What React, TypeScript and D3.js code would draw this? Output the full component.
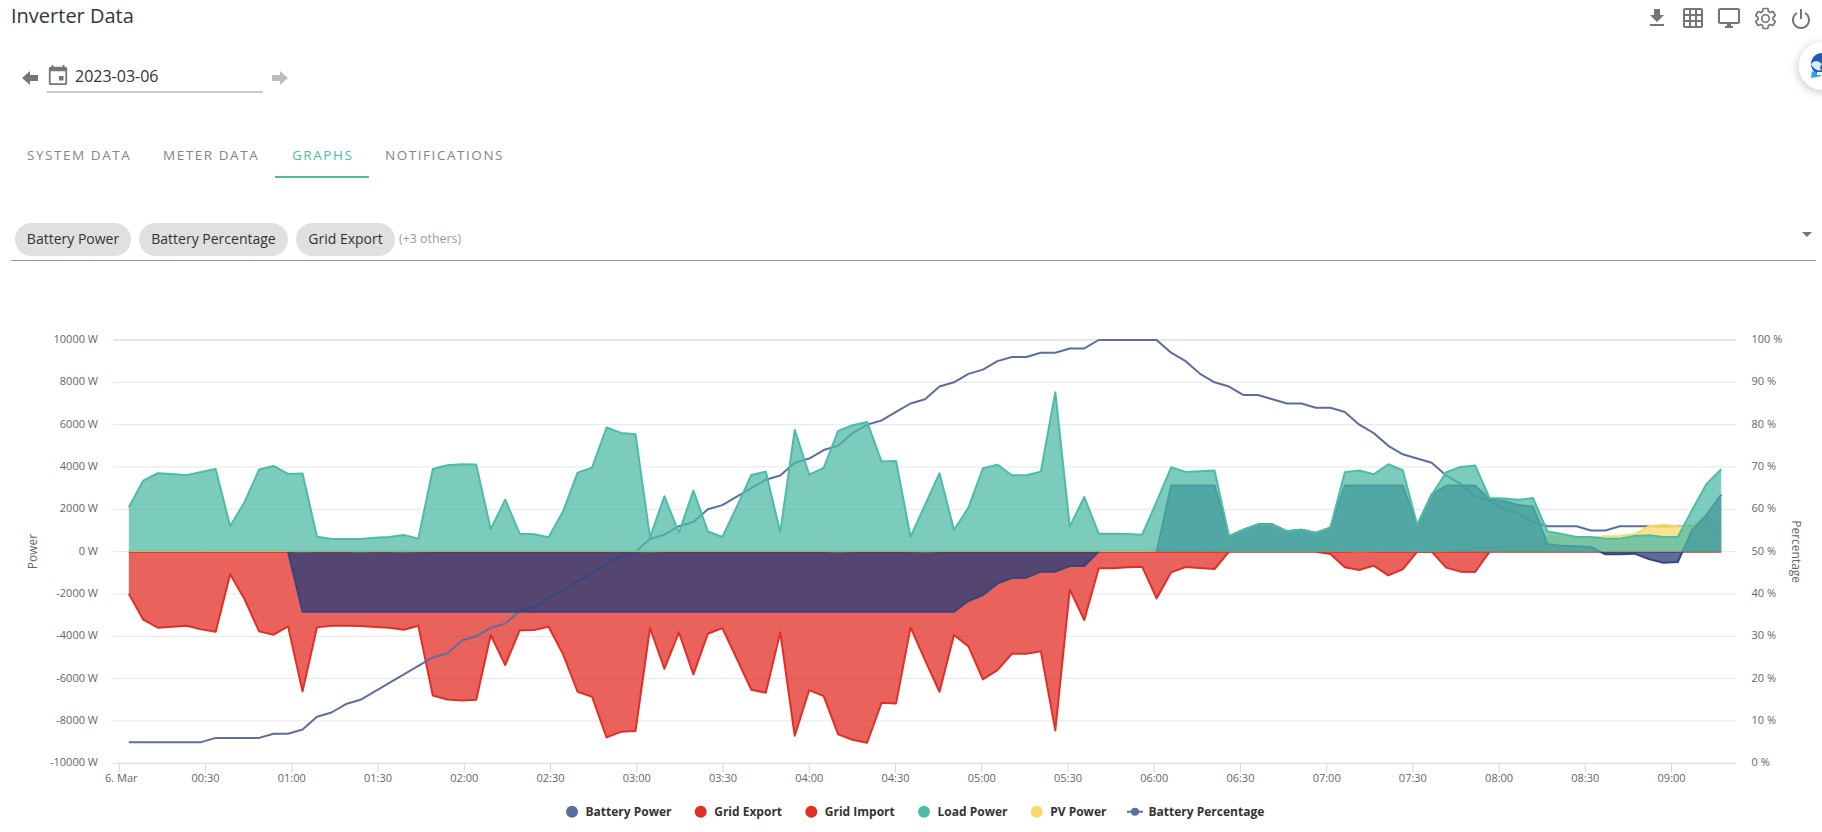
import React from "react";
import * as d3 from "d3";

const FONT = "'Open Sans', sans-serif";

const batteryPower = [0,0,0,0,0,0,0,0,0,0,0,0,-2840,-2840,-2840,-2840,-2840,-2840,-2840,-2840,-2840,-2840,-2840,-2840,-2840,-2840,-2840,-2840,-2840,-2840,-2840,-2840,-2840,-2840,-2840,-2840,-2840,-2840,-2840,-2840,-2840,-2840,-2840,-2840,-2840,-2840,-2840,-2840,-2840,-2840,-2840,-2840,-2840,-2840,-2840,-2840,-2840,-2840,-2333,-2049,-1513,-1245,-1229,-946,-946,-678,-678,0,0,0,0,0,3120,3120,3120,3120,725,1040,1290,1290,961,1040,883,1135,3120,3120,3120,3120,3120,1240,2700,3120,3120,3120,2490,2395,2206,2128,347,284,252,220,-126,-126,-95,-347,-520,-489,1040,1750,2695];
const gridExport = [-1986,-3215,-3593,-3546,-3499,-3672,-3782,-1072,-2254,-3767,-3924,-3530,-6603,-3578,-3499,-3499,-3514,-3562,-3593,-3688,-3499,-6793,-6982,-7029,-6997,-3940,-5358,-3719,-3704,-3546,-4854,-6619,-6856,-8778,-8510,-8479,-3609,-5532,-3814,-5800,-3877,-3609,-5059,-6525,-6667,-3814,-8700,-6540,-6824,-8636,-8889,-9030,-7139,-7171,-3578,-5122,-6619,-3940,-4476,-6036,-5595,-4823,-4823,-4712,-8447,-1797,-3230,-788,-788,-740,-709,-2206,-977,-725,-772,-820,0,0,0,0,0,0,0,-110,-740,-867,-662,-1119,-835,0,0,-756,-945,-961,0,0,0,0,0,0,0,0,0,0,0,0,0,0,0,0,0];
const gridImport = [0,0,0,0,0,0,0,0,0,0,0,0,0,0,0,0,0,0,0,0,0,0,0,0,0,0,0,0,0,0,0,0,0,0,0,0,0,0,0,0,0,0,0,0,0,0,0,0,0,0,0,0,0,0,0,0,0,0,0,0,0,0,0,0,0,0,0,0,0,0,0,0,0,0,0,0,0,0,0,0,0,0,0,0,0,0,0,0,0,0,0,0,0,0,0,0,0,0,0,0,0,0,0,0,0,0,0,0,0,0,0];
const loadPower = [2096,3357,3704,3672,3609,3767,3908,1198,2348,3877,4050,3672,3688,709,600,600,600,660,693,788,615,3908,4082,4129,4113,1056,2459,851,820,678,1907,3735,3972,5863,5610,5548,678,2616,898,2884,961,693,2127,3625,3782,914,5752,3640,3956,5705,5973,6130,4255,4287,693,2206,3704,1024,2080,3940,4113,3609,3609,3782,7533,1182,2585,851,851,835,804,2364,3987,3767,3798,3830,725,1040,1277,1277,961,1040,883,1135,3751,3830,3656,4129,3845,1261,2679,3751,4003,4075,2530,2515,2450,2530,950,835,693,693,615,615,741,772,693,693,1986,3215,3893];
const pvPower = [30,30,30,30,30,30,40,30,30,30,30,30,-30,20,20,20,-30,20,20,-30,20,30,30,30,30,30,30,30,30,30,30,30,30,30,30,30,-20,30,30,30,30,30,30,30,30,30,30,30,30,-30,30,30,30,30,30,-30,30,30,30,30,30,30,30,30,30,30,30,30,30,30,30,60,70,80,70,60,50,40,40,40,40,40,40,40,30,20,30,40,40,30,40,40,130,170,160,220,360,570,710,710,630,650,725,740,820,1198,1277,1198,1166,1702,1355];
const batteryPercentage = [5,5,5,5,5,5,6,6,6,6,7,7,8,11,12,14,15,17,19,21,23,25,26,29,30,32,33,36,37,39,41,43,45,47,49,50,53,54,56,57,60,61,63,65,67,68,71,72,74,75,78,80,81,83,85,86,89,90,92,93,95,96,96,97,97,98,98,100,100,100,100,100,97,95,92,90,89,87,87,86,85,85,84,84,83,80,78,75,73,72,71,68,66,63,62,60,59,57,56,56,56,55,55,56,56,56,56,56,56,56,55];

const firstSampleMinute = 3.3;
const sampleStepMinutes = 5.036;
const powerTicks = [10000,8000,6000,4000,2000,0,-2000,-4000,-6000,-8000,-10000];
const percentTicks = [100,90,80,70,60,50,40,30,20,10,0];
const timeTickMinutes = [0,30,60,90,120,150,180,210,240,270,300,330,360,390,420,450,480,510,540];
const timeTickLabels = ["6. Mar","00:30","01:00","01:30","02:00","02:30","03:00","03:30","04:00","04:30","05:00","05:30","06:00","06:30","07:00","07:30","08:00","08:30","09:00"];
const tabLabels = ["SYSTEM DATA","METER DATA","GRAPHS","NOTIFICATIONS"];
const tabX = [27,163,292,385];
const chipLabels = ["Battery Power","Battery Percentage","Grid Export"];
const chipBoxes = [[15,116],[139,149],[296,99]];
const legendLabels = ["Battery Power","Grid Export","Grid Import","Load Power","PV Power","Battery Percentage"];
const legendDotX = [572,700.7,811.3,924,1036.7,1135];
const legendColors = ["#5b6e9f","#e32e26","#e32e26","#4fbba7","#f9d96a","#5b6e9f"];

const LEFT = 113, RIGHT = 1736, TOP = 340, BOTTOM = 763.3;
const GREY = "#757575";
const LABEL = "#666666";

const x = d3.scaleLinear().domain([-2.2, 562.4]).range([LEFT, RIGHT]);
const yPower = d3.scaleLinear().domain([-10000, 10000]).range([BOTTOM, TOP]);
const yPct = d3.scaleLinear().domain([0, 100]).range([BOTTOM, TOP]);
const sx = (_: number, i: number) => x(firstSampleMinute + i * sampleStepMinutes);

const areaGen = d3.area<number>().x(sx).y0(yPower(0)).y1((d) => yPower(d));
const pctLine = d3.line<number>().x(sx).y((d) => yPct(d));

function AreaSeries({ data, fill, stroke, hideZeroRuns = false }: { data: number[]; fill: string; stroke: string; hideZeroRuns?: boolean }) {
  const lineGen = d3.line<number>()
    .x(sx)
    .y((d) => yPower(d))
    .defined((d, i) => !hideZeroRuns || d !== 0 || (data[i - 1] ?? 0) !== 0 || (data[i + 1] ?? 0) !== 0);
  return (
    <g>
      <path d={areaGen(data) ?? ""} fill={fill} fillOpacity={0.75} />
      <path d={lineGen(data) ?? ""} fill="none" stroke={stroke} strokeWidth={2} strokeLinejoin="round" />
    </g>
  );
}

function Icon({ d, px, py, size, fill = GREY, stroke = "none", sw = 0 }: { d: string; px: number; py: number; size: number; fill?: string; stroke?: string; sw?: number }) {
  return (
    <g transform={`translate(${px},${py}) scale(${size / 24})`}>
      <path d={d} fill={fill} stroke={stroke} strokeWidth={sw} />
    </g>
  );
}

const iconDownload = "M19 9h-4V3H9v6H5l7 7 7-7zM5 18v2h14v-2H5z";
const iconGrid = "M20 2H4c-1.1 0-2 .9-2 2v16c0 1.1.9 2 2 2h16c1.1 0 2-.9 2-2V4c0-1.1-.9-2-2-2zM8 20H4v-4h4v4zm0-6H4v-4h4v4zm0-6H4V4h4v4zm6 12h-4v-4h4v4zm0-6h-4v-4h4v4zm0-6h-4V4h4v4zm6 12h-4v-4h4v4zm0-6h-4v-4h4v4zm0-6h-4V4h4v4z";
const iconMonitor = "M21 2H3c-1.1 0-2 .9-2 2v12c0 1.1.9 2 2 2h7v2H8v2h8v-2h-2v-2h7c1.1 0 2-.9 2-2V4c0-1.1-.9-2-2-2zm0 14H3V4h18v12z";
const iconGear = "M19.14 12.94c.04-.3.06-.61.06-.94 0-.32-.02-.64-.07-.94l2.03-1.58c.18-.14.23-.41.12-.61l-1.92-3.32c-.12-.22-.37-.29-.59-.22l-2.39.96c-.5-.38-1.03-.7-1.62-.94l-.36-2.54c-.04-.24-.24-.41-.48-.41h-3.84c-.24 0-.43.17-.47.41l-.36 2.54c-.59.24-1.13.57-1.62.94l-2.39-.96c-.22-.08-.47 0-.59.22L2.74 8.87c-.12.21-.08.47.12.61l2.03 1.58c-.05.3-.09.63-.09.94s.02.64.07.94l-2.03 1.58c-.18.14-.23.41-.12.61l1.92 3.32c.12.22.37.29.59.22l2.39-.96c.5.38 1.03.7 1.62.94l.36 2.54c.05.24.24.41.48.41h3.84c.24 0 .44-.17.47-.41l.36-2.54c.59-.24 1.13-.56 1.62-.94l2.39.96c.22.08.47 0 .59-.22l1.92-3.32c.12-.22.07-.47-.12-.61l-2.01-1.58zM12 15.6c-1.98 0-3.6-1.62-3.6-3.6s1.62-3.6 3.6-3.6 3.6 1.62 3.6 3.6-1.62 3.6-3.6 3.6z";
const iconCalendar = "M20 3h-1V1h-2v2H7V1H5v2H4c-1.1 0-2 .9-2 2v16c0 1.1.9 2 2 2h16c1.1 0 2-.9 2-2V5c0-1.1-.9-2-2-2zm0 18H4V8h16v13zM13 13h5v5h-5z";

export default function App() {
  return (
    <svg width={1822} height={832} viewBox="0 0 1822 832" style={{ position: "absolute", left: 0, top: 0, display: "block" }} fontFamily={FONT}>
      <defs>
        <filter id="chatShadow" x="-50%" y="-50%" width="200%" height="200%">
          <feDropShadow dx="-1" dy="2" stdDeviation="5" floodColor="#000" floodOpacity="0.22" />
        </filter>
      </defs>
      <rect width={1822} height={832} fill="#fff" />

      {/* header */}
      <text x={11} y={23} fontSize={20} fill="#2f3640">Inverter Data</text>
      <Icon d={iconDownload} px={1645} py={6} size={24} />
      <Icon d={iconGrid} px={1681} py={6} size={24} fill={GREY} />
      <Icon d={iconMonitor} px={1717} py={6} size={24} />
      <Icon d={iconGear} px={1753} py={6} size={25} fill="none" stroke={GREY} sw={1.6} />
      <g fill="none" stroke={GREY} strokeWidth={2}>
        <path d="M1797 13 A8 8 0 1 0 1805 13" />
        <path d="M1801 9 V19" />
      </g>
      <circle cx={1823} cy={66} r={24} fill="#fff" filter="url(#chatShadow)" />
      <g>
        <circle cx={1822} cy={64} r={11} fill="#1e5db5" />
        <path d="M1811 64 Q1816 58 1822 64 Q1818 68 1822 70 Q1815 72 1811 64Z" fill="#d9ecf8" />
        <path d="M1812 71 L1811 78 L1822 76 Z" fill="#23a6e8" />
        <rect x={1817} y={72} width={5} height={3} fill="#fff" />
      </g>

      {/* date picker */}
      <path d="M22 78 L30 71 V75 H38 V81 H30 V85 Z" fill={GREY} />
      <Icon d={iconCalendar} px={47} py={64} size={22} />
      <text x={75} y={82} fontSize={16} fill="#333">2023-03-06</text>
      <line x1={47} x2={263} y1={92} y2={92} stroke="#949494" strokeWidth={1} />
      <path d="M288 78 L280 71 V75 H272 V81 H280 V85 Z" fill="#bdbdbd" />

      {/* tabs */}
      {tabLabels.map((t, i) => (
        <text key={t} x={tabX[i]} y={160} fontSize={13.5} letterSpacing={1.55} fill={t === "GRAPHS" ? "#4fbba7" : "#858585"}>{t}</text>
      ))}
      <rect x={275} y={176} width={94} height={2} fill="#4fbba7" />

      {/* chips */}
      {chipLabels.map((c, i) => (
        <g key={c}>
          <rect x={chipBoxes[i][0]} y={223} width={chipBoxes[i][1]} height={33} rx={16.5} fill="#e0e0e0" />
          <text x={chipBoxes[i][0] + chipBoxes[i][1] / 2} y={244} fontSize={14} textAnchor="middle" fill="#333">{c}</text>
        </g>
      ))}
      <text x={399} y={243} fontSize={12.4} fill="#9a9a9a">(+3 others)</text>
      <line x1={11} x2={1816} y1={260.5} y2={260.5} stroke="#949494" strokeWidth={1} />
      <path d="M1802 232 H1812 L1807 237 Z" fill={GREY} />

      {/* grid */}
      {powerTicks.filter((t) => t !== -10000).map((t) => (
        <line key={t} x1={LEFT} x2={RIGHT} y1={yPower(t)} y2={yPower(t)} stroke="#e6e6e6" strokeWidth={t === 10000 ? 2 : 1} />
      ))}

      {/* series, in the reference's stacking order */}
      <AreaSeries data={gridImport} fill="#e32e26" stroke="#e32e26" />
      <AreaSeries data={gridExport} fill="#e32e26" stroke="#e32e26" hideZeroRuns />
      <path d={pctLine(batteryPercentage) ?? ""} fill="none" stroke="#5b6e9f" strokeWidth={2} strokeLinejoin="round" />
      <AreaSeries data={pvPower} fill="#f9d96a" stroke="#f9d96a" />
      <AreaSeries data={batteryPower} fill="#233c78" stroke="#33467f" hideZeroRuns />
      <AreaSeries data={loadPower} fill="#4fbba7" stroke="#4fbba7" />

      {/* x axis */}
      <line x1={LEFT} x2={RIGHT} y1={BOTTOM} y2={BOTTOM} stroke="#ccd6eb" strokeWidth={1} />
      {timeTickMinutes.map((m, i) => (
        <g key={m}>
          <line x1={x(m)} x2={x(m)} y1={BOTTOM} y2={BOTTOM + 9} stroke="#ccd6eb" strokeWidth={1} />
          <text x={x(m) + (i === 0 ? 2 : 0)} y={782} fontSize={11} textAnchor="middle" fill={LABEL}>{timeTickLabels[i]}</text>
        </g>
      ))}

      {/* y axes */}
      {powerTicks.map((t) => (
        <text key={t} x={98} y={yPower(t) + 3} fontSize={11} textAnchor="end" fill={LABEL}>{`${t} W`}</text>
      ))}
      {percentTicks.map((t) => (
        <text key={t} x={1751.5} y={yPct(t) + 3} fontSize={11} fill={LABEL}>{`${t} %`}</text>
      ))}
      <text transform={`translate(37,${yPower(0)}) rotate(-90)`} fontSize={12} textAnchor="middle" fill={LABEL}>Power</text>
      <text transform={`translate(1792,${yPower(0)}) rotate(90)`} fontSize={12} textAnchor="middle" fill={LABEL}>Percentage</text>

      {/* legend */}
      {legendLabels.map((l, i) => (
        <g key={l}>
          {i === 5 && <line x1={legendDotX[i] - 8} x2={legendDotX[i] + 8} y1={811.7} y2={811.7} stroke={legendColors[i]} strokeWidth={2} />}
          <circle cx={legendDotX[i]} cy={811.7} r={i === 5 ? 4 : 6} fill={legendColors[i]} />
          <text x={legendDotX[i] + 13.5} y={816} fontSize={12} fontWeight={700} fill="#333333">{l}</text>
        </g>
      ))}
    </svg>
  );
}
